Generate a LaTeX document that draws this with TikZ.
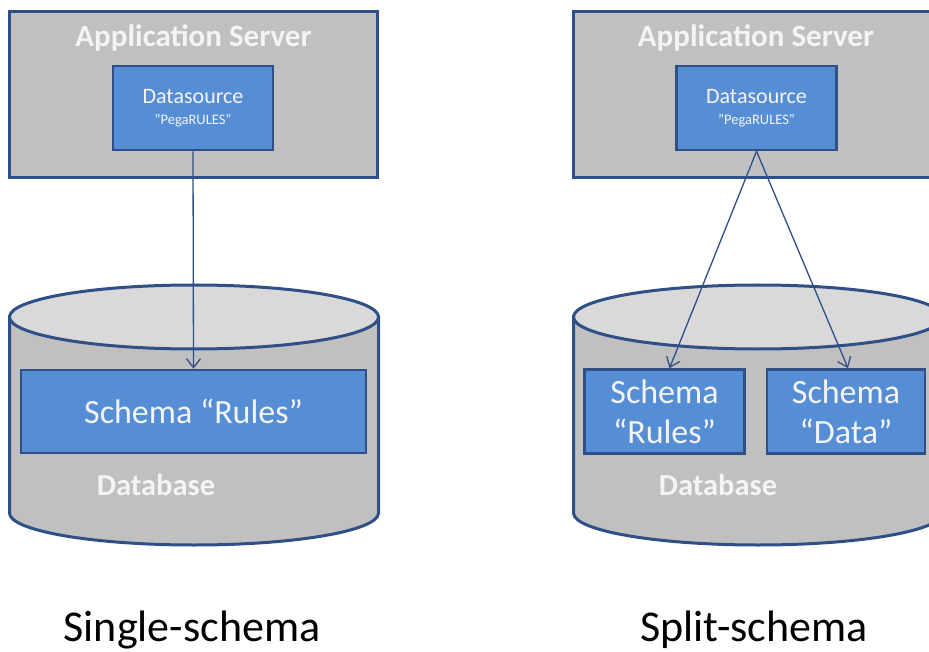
\documentclass[tikz,border=0pt]{standalone}
\usepackage{fontspec}
\setmainfont{Carlito}
\usetikzlibrary{arrows.meta,calc}
\definecolor{bordc}{HTML}{2F5086}
\definecolor{grayf}{HTML}{C0C0C0}
\definecolor{topf}{HTML}{D9D9D9}
\definecolor{bluef}{HTML}{558ED5}
\definecolor{txtc}{HTML}{F4F4F4}
\tikzset{
  serverbox/.style={draw=bordc,line width=3pt,fill=grayf,inner sep=0pt},
  bluebox/.style={draw=bordc,line width=2.6pt,fill=bluef,inner sep=0pt,text=txtc,align=center},
  cylbody/.style={draw=bordc,line width=3pt,fill=grayf},
  cyltop/.style={draw=bordc,line width=3pt,fill=topf},
  wlabel/.style={text=txtc,font=\bfseries\fontsize{31}{36}\selectfont,inner sep=0pt},
  dblabel/.style={text=txtc,font=\bfseries\fontsize{30.5}{36}\selectfont,inner sep=0pt},
  caption/.style={text=black,font=\fontsize{44}{50}\selectfont,inner sep=0pt},
  conn/.style={draw=bordc,line width=1.3pt,-{Straight Barb[length=9pt,width=14pt,line width=1.3pt]}}
}
\newcommand{\dstext}{{\fontsize{22}{24}\selectfont Datasource}\\[9pt]{\fontsize{14.5}{15}\selectfont "PegaRULES"}}
\begin{document}
\begin{tikzpicture}[x=1pt,y=-1pt]
\useasboundingbox (0,0) rectangle (929,652);
\clip (0,0) rectangle (929,652);
\fill[white] (0,0) rectangle (929,652);
% ---------- left side ----------
\node[serverbox,minimum width=368pt,minimum height=166pt] (srv1) at (193.5,95) {};
\node[wlabel] (app1) at (193.5,38) {Application Server};
\node[bluebox,minimum width=160pt,minimum height=84pt] (ds1) at (193,108) {\dstext};
% cylinder
\path[cylbody] (9.5,317) -- (9.5,513) arc[start angle=180,end angle=360,x radius=184.5,y radius=-32] -- (378.5,317) -- cycle;
\path[cyltop] (194,317) ellipse[x radius=184.5,y radius=32];
\node[bluebox,minimum width=345pt,minimum height=83pt,font=\fontsize{34}{40}\selectfont] (sr1) at (193.5,411.5) {Schema “Rules”};
\node[dblabel] (db1) at (156,485) {Database};
\draw[conn] (ds1.south) -- (sr1.north);
\node[caption] (cap1) at (192,630) {Single-schema};
% ---------- right side ----------
\node[serverbox,minimum width=368pt,minimum height=166pt] (srv2) at (757,95) {};
\node[wlabel] (app2) at (756,38) {Application Server};
\node[bluebox,minimum width=160pt,minimum height=84pt] (ds2) at (756.5,108) {\dstext};
\path[cylbody] (573.5,317) -- (573.5,513) arc[start angle=180,end angle=360,x radius=184.5,y radius=-32] -- (942.5,317) -- cycle;
\path[cyltop] (758,317) ellipse[x radius=184.5,y radius=32];
\node[bluebox,minimum width=160pt,minimum height=84pt,font=\fontsize{34}{40}\selectfont] (sr2) at (664.5,411.5) {Schema\\“Rules”};
\node[bluebox,minimum width=158pt,minimum height=84pt,font=\fontsize{34}{40}\selectfont] (sd2) at (846,411.5) {Schema\\“Data”};
\node[dblabel] (db2) at (718,485) {Database};
\draw[conn] (ds2.south) -- ([xshift=5pt]sr2.north);
\draw[conn] (ds2.south) -- ([xshift=2pt]sd2.north);
\node[caption] (cap2) at (754,630) {Split-schema};
\end{tikzpicture}
\end{document}
